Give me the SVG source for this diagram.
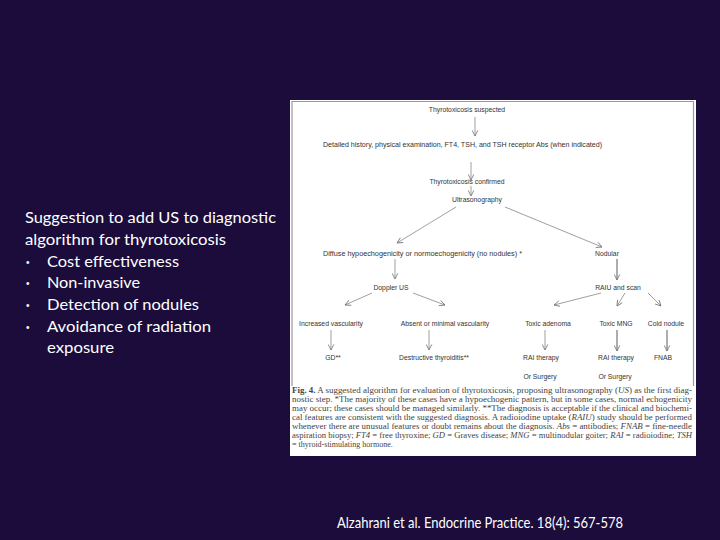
<svg xmlns="http://www.w3.org/2000/svg" width="720" height="540" viewBox="0 0 720 540">
<defs>
<marker id="ah" viewBox="0 0 10 10" refX="9" refY="5" markerWidth="7" markerHeight="7" markerUnits="userSpaceOnUse" orient="auto">
<path d="M1,1 L9,5 L1,9" fill="none" stroke="#777" stroke-width="1.2"/>
</marker>
<style>
.bg{fill:#1b0c3c}
.lt{font-family:Lato,"Open Sans","Liberation Sans",sans-serif;fill:#ffffff;font-size:15px}
.bu{font-family:"Liberation Sans",sans-serif;fill:#ffffff;font-size:10px}
.ft{font-family:"Liberation Sans",Arial,sans-serif;fill:#333;font-size:6.8px}
.cap{font-family:"Liberation Serif","Times New Roman",serif;fill:#444;font-size:8px}
.c{stroke:#888;stroke-width:0.8;fill:none;marker-end:url(#ah)}
.k{stroke:#999;stroke-width:1.6;fill:none;marker-end:url(#ah)}
</style>
</defs>
<rect class="bg" x="0" y="0" width="720" height="540"/>
<g id="left-text">
<text class="lt" x="25" y="223" textLength="251" lengthAdjust="spacingAndGlyphs">Suggestion to add US to diagnostic</text>
<text class="lt" x="25" y="245" textLength="201" lengthAdjust="spacingAndGlyphs">algorithm for thyrotoxicosis</text>
<text class="bu" x="26" y="266">•</text><text class="lt" x="47" y="267" textLength="132" lengthAdjust="spacingAndGlyphs">Cost effectiveness</text>
<text class="bu" x="26" y="287">•</text><text class="lt" x="47" y="288" textLength="93" lengthAdjust="spacingAndGlyphs">Non-invasive</text>
<text class="bu" x="26" y="309">•</text><text class="lt" x="47" y="310" textLength="152" lengthAdjust="spacingAndGlyphs">Detection of nodules</text>
<text class="bu" x="26" y="331">•</text><text class="lt" x="47" y="332" textLength="164" lengthAdjust="spacingAndGlyphs">Avoidance of radiation</text>
<text class="lt" x="47" y="353" textLength="67" lengthAdjust="spacingAndGlyphs">exposure</text>
</g>
<g id="figure">
<rect x="290" y="100" width="406" height="356" fill="#ffffff"/>
<path d="M292,386 V101.5 H693.5 V386" fill="none" stroke="#9a9a9a" stroke-width="1.2"/>
</g>
<g id="connectors">
<line class="c" x1="475" y1="117" x2="475" y2="136"/>
<line class="c" x1="471" y1="162" x2="471" y2="180"/>
<line class="c" x1="471" y1="186" x2="471" y2="196"/>
<line class="c" x1="456" y1="207" x2="397" y2="243"/>
<line class="c" x1="505" y1="207" x2="602" y2="247"/>
<line class="c" x1="395" y1="259" x2="395" y2="279"/>
<line class="k" x1="617" y1="259" x2="617" y2="280"/>
<line class="c" x1="372" y1="293" x2="345" y2="305"/>
<line class="c" x1="413" y1="293" x2="445" y2="305"/>
<line class="c" x1="601" y1="293" x2="554" y2="305"/>
<line class="c" x1="625" y1="293" x2="617" y2="306"/>
<line class="c" x1="648" y1="293" x2="661" y2="306"/>
<line class="c" x1="331" y1="330" x2="331" y2="350"/>
<line class="c" x1="429" y1="330" x2="429" y2="350"/>
<line class="c" x1="545" y1="330" x2="545" y2="350"/>
<line class="k" x1="617" y1="330" x2="617" y2="351"/>
<line class="k" x1="667" y1="330" x2="667" y2="351"/>
</g>
<g id="n-suspected"><text class="ft" x="467" y="112" text-anchor="middle">Thyrotoxicosis suspected</text></g>
<g id="n-history"><text class="ft" x="323" y="147" textLength="279" lengthAdjust="spacingAndGlyphs">Detailed history, physical examination, FT4, TSH, and TSH receptor Abs (when indicated)</text></g>
<g id="n-confirmed"><text class="ft" x="467" y="184" text-anchor="middle">Thyrotoxicosis confirmed</text></g>
<g id="n-us"><text class="ft" x="477" y="202" text-anchor="middle">Ultrasonography</text></g>
<g id="n-diffuse"><text class="ft" x="323" y="256" textLength="199" lengthAdjust="spacingAndGlyphs">Diffuse hypoechogenicity or normoechogenicity (no nodules) *</text></g>
<g id="n-nodular"><text class="ft" x="607" y="256" text-anchor="middle">Nodular</text></g>
<g id="n-doppler"><text class="ft" x="391" y="290" text-anchor="middle">Doppler US</text></g>
<g id="n-raiu"><text class="ft" x="618" y="290" text-anchor="middle">RAIU and scan</text></g>
<g id="n-increased"><text class="ft" x="331" y="326" text-anchor="middle">Increased vascularity</text></g>
<g id="n-absent"><text class="ft" x="445" y="326" text-anchor="middle">Absent or minimal vascularity</text></g>
<g id="n-adenoma"><text class="ft" x="548" y="326" text-anchor="middle">Toxic adenoma</text></g>
<g id="n-mng"><text class="ft" x="616" y="326" text-anchor="middle">Toxic MNG</text></g>
<g id="n-cold"><text class="ft" x="666" y="326" text-anchor="middle">Cold nodule</text></g>
<g id="n-gd"><text class="ft" x="333" y="360" text-anchor="middle">GD**</text></g>
<g id="n-destructive"><text class="ft" x="434" y="360" text-anchor="middle">Destructive thyroiditis**</text></g>
<g id="n-rai1"><text class="ft" x="541" y="360" text-anchor="middle">RAI therapy</text><text class="ft" x="540" y="379" text-anchor="middle">Or Surgery</text></g>
<g id="n-rai2"><text class="ft" x="616" y="360" text-anchor="middle">RAI therapy</text><text class="ft" x="615" y="379" text-anchor="middle">Or Surgery</text></g>
<g id="n-fnab"><text class="ft" x="663" y="360" text-anchor="middle">FNAB</text></g>
<g id="caption">
<text class="cap" x="292" y="393" textLength="400" lengthAdjust="spacingAndGlyphs"><tspan font-weight="bold">Fig. 4.</tspan> A suggested algorithm for evaluation of thyrotoxicosis, proposing ultrasonography (<tspan font-style="italic">US</tspan>) as the first diag-</text>
<text class="cap" x="292" y="402" textLength="400" lengthAdjust="spacingAndGlyphs">nostic step. *The majority of these cases have a hypoechogenic pattern, but in some cases, normal echogenicity</text>
<text class="cap" x="292" y="411" textLength="400" lengthAdjust="spacingAndGlyphs">may occur; these cases should be managed similarly. **The diagnosis is acceptable if the clinical and biochemi-</text>
<text class="cap" x="292" y="420" textLength="400" lengthAdjust="spacingAndGlyphs">cal features are consistent with the suggested diagnosis. A radioiodine uptake (<tspan font-style="italic">RAIU</tspan>) study should be performed</text>
<text class="cap" x="292" y="429" textLength="400" lengthAdjust="spacingAndGlyphs">whenever there are unusual features or doubt remains about the diagnosis. <tspan font-style="italic">Abs</tspan> = antibodies; <tspan font-style="italic">FNAB</tspan> = fine-needle</text>
<text class="cap" x="292" y="438" textLength="400" lengthAdjust="spacingAndGlyphs">aspiration biopsy; <tspan font-style="italic">FT4</tspan> = free thyroxine; <tspan font-style="italic">GD</tspan> = Graves disease; <tspan font-style="italic">MNG</tspan> = multinodular goiter; <tspan font-style="italic">RAI</tspan> = radioiodine; <tspan font-style="italic">TSH</tspan></text>
<text class="cap" x="292" y="447">= thyroid-stimulating hormone.</text>
</g>
<g id="citation">
<text class="lt" x="337" y="528" font-size="13" textLength="286" lengthAdjust="spacingAndGlyphs">Alzahrani et al. Endocrine Practice. 18(4): 567-578</text>
</g>
</svg>
